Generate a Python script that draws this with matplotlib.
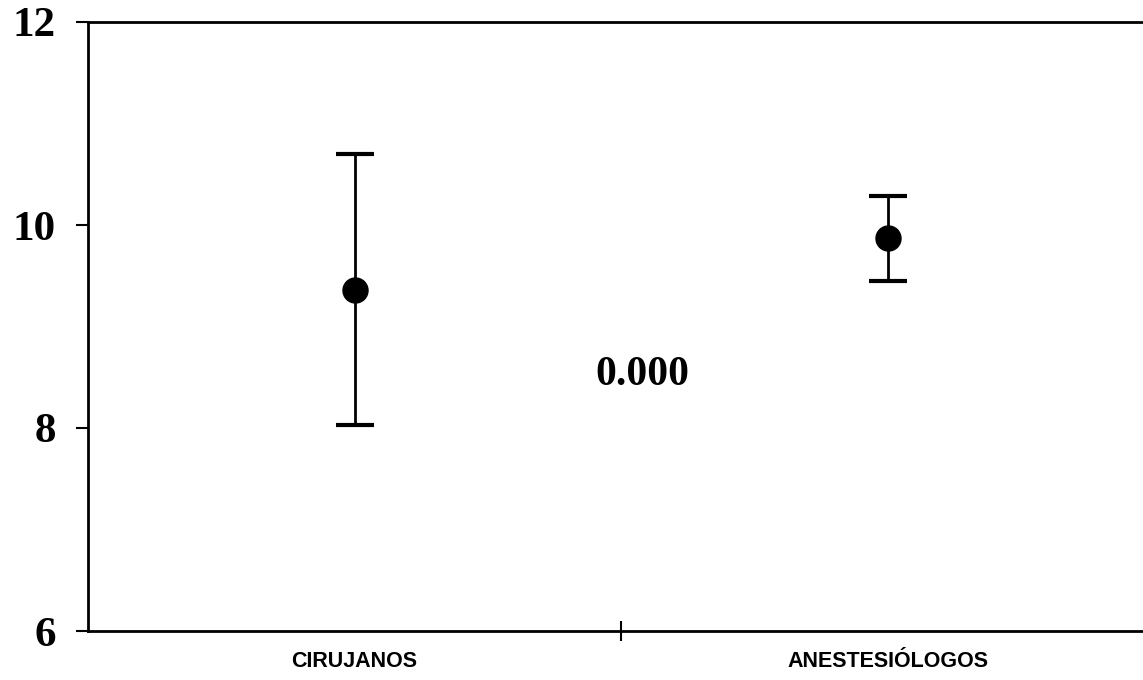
import matplotlib
matplotlib.use("Agg")
import matplotlib.pyplot as plt

# Data
groups = ["CIRUJANOS", "ANESTESIÓLOGOS"]
means = [9.36, 9.87]
upper = [10.70, 10.29]
lower = [8.03, 9.45]
p_text = "0.000"
y_ticks = [6, 8, 10, 12]

xpos = [0.5, 1.5]
err_low = [m - l for m, l in zip(means, lower)]
err_high = [u - m for u, m in zip(upper, means)]

fig = plt.figure(figsize=(11.43, 6.8), dpi=100)
ax = fig.add_axes([88 / 1143, 49 / 680, 1 - 88 / 1143 + 0.01, 609 / 680])

ax.errorbar(xpos, means, yerr=[err_low, err_high], fmt="o", color="black",
            markersize=18, elinewidth=2, capsize=14, capthick=3)

ax.set_xlim(0, 2)
ax.set_ylim(6, 12)

ax.set_yticks(y_ticks)
ax.set_yticklabels([str(t) for t in y_ticks], fontfamily="Liberation Serif",
                   fontweight="bold", fontsize=31)
ax.tick_params(axis="y", direction="out", length=9, width=1.5, pad=14)

# category names sit between the tick marks
ax.set_xticks([1])
ax.set_xticklabels([""])
ax.tick_params(axis="x", direction="inout", length=14, width=1.5)
for x, name in zip(xpos, groups):
    ax.text(x, -0.05, name, transform=ax.get_xaxis_transform(), ha="center", va="center",
            fontfamily="Liberation Sans", fontweight="bold", fontsize=15.5)

ax.text(1.04, 8.52, p_text, ha="center", va="center", fontfamily="Liberation Serif",
        fontweight="bold", fontsize=30)

for s in ["left", "bottom", "top"]:
    ax.spines[s].set_linewidth(2)
ax.spines["right"].set_visible(False)

fig.savefig("out.png", dpi=100)
